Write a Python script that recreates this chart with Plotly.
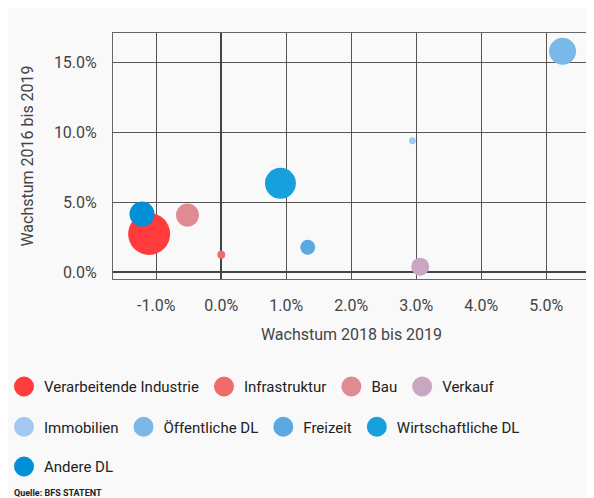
import plotly.graph_objects as go

# ---- data ----
branchen = ["Verarbeitende Industrie", "Infrastruktur", "Bau", "Verkauf",
            "Immobilien", "Öffentliche DL", "Freizeit", "Wirtschaftliche DL", "Andere DL"]
wachstum_2018_2019 = [-0.0111, 0.0000, -0.0052, 0.0306, 0.0294, 0.0525, 0.0133, 0.0091, -0.0122]
wachstum_2016_2019 = [0.0274, 0.0126, 0.0409, 0.0040, 0.0940, 0.1580, 0.0179, 0.0636, 0.0416]
beschaeftigte = [700, 25, 210, 129, 19, 289, 89, 381, 248]   # bubble size (estimated)
farben = ["#ff3b3b", "#f26b6b", "#e08a92", "#c9a6c2", "#a3c9f0",
          "#7ab8e8", "#5aa9e2", "#18a0dc", "#0090d8"]
legend_rows = ["legend", "legend", "legend", "legend",
               "legend2", "legend2", "legend2", "legend2", "legend3"]
x_ticks = [-0.01, 0.0, 0.01, 0.02, 0.03, 0.04, 0.05]
x_ticktext = ["-1.0%", "0.0%", "1.0%", "2.0%", "3.0%", "4.0%", "5.0%"]
y_ticks = [0.0, 0.05, 0.10, 0.15]
y_ticktext = ["0.0%", "5.0%", "10.0%", "15.0%"]

FONT = "Roboto, Liberation Sans, Arial, sans-serif"
MAX_D = 42
sizeref = 2 * max(beschaeftigte) / MAX_D ** 2

fig = go.Figure()
for name, x, y, s, c, lg in zip(branchen, wachstum_2018_2019, wachstum_2016_2019,
                                 beschaeftigte, farben, legend_rows):
    fig.add_trace(go.Scatter(
        x=[x], y=[y], mode="markers", name=name, legendgroup=name,
        showlegend=False,
        marker=dict(size=[s], sizemode="area", sizeref=sizeref, color=c,
                    opacity=1, line=dict(width=0)),
        hovertemplate=name + "<br>%{x:.1%} / %{y:.1%}<extra></extra>",
    ))
    # legend entry with a larger symbol
    fig.add_trace(go.Scatter(
        x=[None], y=[None], mode="markers", name=name, legendgroup=name,
        showlegend=True, legend=lg, hoverinfo="skip",
        marker=dict(size=16, color=c, line=dict(width=4, color=c)),
    ))

W, H = 594, 498
L, R, T, B = 105, 12, 25, 227
PW, PH = W - L - R, H - T - B


def px_x(fx):
    return (fx - L) / PW


def px_y(fy):
    return (T + PH - fy) / PH


legend_common = dict(orientation="h", xanchor="left", yanchor="middle",
                     x=px_x(-4),
                     bgcolor="rgba(0,0,0,0)",
                     font=dict(family=FONT, size=15, color="#222222"),
                     itemclick=False, itemdoubleclick=False)

fig.update_layout(
    width=W, height=H,
    margin=dict(l=L, r=R, t=T, b=B, autoexpand=False),
    paper_bgcolor="#f9f9f9", plot_bgcolor="#f9f9f9",
    font=dict(family=FONT, color="#444444"),
    legend=dict(**legend_common, y=px_y(378.7)),
    legend2=dict(**legend_common, y=px_y(419)),
    legend3=dict(**legend_common, y=px_y(458.7)),
    xaxis=dict(range=[-0.01666, 0.05672], tickvals=x_ticks, ticktext=x_ticktext,
               showgrid=True, gridcolor="#555555", gridwidth=1,
               zeroline=True, zerolinecolor="#444444", zerolinewidth=2,
               showline=True, mirror=True, linecolor="#666666", linewidth=1,
               ticks="", ticklabelstandoff=12,
               tickfont=dict(family=FONT, size=16, color="#444444"),
               title=dict(text="Wachstum 2018 bis 2019", standoff=14,
                          font=dict(family=FONT, size=16, color="#444444"))),
    yaxis=dict(range=[-0.0048, 0.1711], tickvals=y_ticks, ticktext=y_ticktext,
               showgrid=True, gridcolor="#555555", gridwidth=1,
               zeroline=True, zerolinecolor="#444444", zerolinewidth=2,
               showline=True, mirror=True, linecolor="#666666", linewidth=1,
               ticks="", ticklabelstandoff=12,
               tickfont=dict(family=FONT, size=16, color="#444444"),
               title=dict(text="Wachstum 2016 bis 2019", standoff=16,
                          font=dict(family=FONT, size=16, color="#444444"))),
    annotations=[dict(text="<b>Quelle: BFS STATENT</b>", xref="paper", yref="paper",
                      x=px_x(4), y=px_y(484.7),
                      xanchor="left", yanchor="middle", showarrow=False,
                      font=dict(family="Liberation Sans Narrow, Roboto, sans-serif",
                                size=9, color="#222222"))],
)

fig.write_html("out.html")
